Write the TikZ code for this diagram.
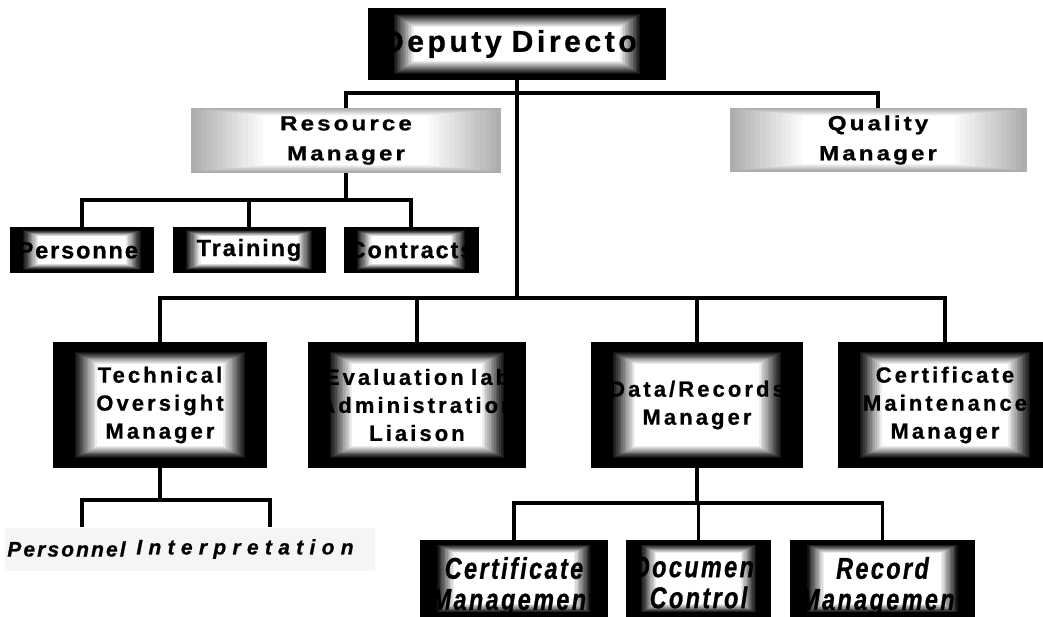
\documentclass[tikz,border=0pt]{standalone}
\usepackage{fontspec}
\setmainfont{Liberation Sans}[BoldFeatures={FakeBold=0.8}, BoldItalicFeatures={FakeBold=0.8}]
\newfontfamily\condit{Liberation Sans}[FakeStretch=0.78, LetterSpace=8, BoldItalicFeatures={FakeBold=0.8}]
\newfontfamily\widefont{Liberation Sans}[FakeStretch=1.18, LetterSpace=15, BoldFeatures={FakeBold=0.8}]
\usetikzlibrary{calc}
\tikzset{
  conn/.style={line width=3.8pt},
  fade/.style n args={5}{path picture={
    \foreach \k in {0,...,14}{
      \pgfmathsetmacro{\fadeval}{#5*(1-\k/14)}
      \pgfmathsetmacro{\ix}{#1+#2*\k/14}
      \pgfmathsetmacro{\iy}{#3+#4*\k/14}
      \fill[black!\fadeval!white]
        ($(path picture bounding box.south west)+(\ix,-\iy)$)
        rectangle
        ($(path picture bounding box.north east)-(\ix,-\iy)$);
    }}},
  box/.style 2 args={inner sep=0pt, minimum width=#1, text width=#1,
    minimum height=#2, align=center},
  darkbox/.style={fill=black},
  lightbox/.style={fill=black!32},
  ftop/.style={font=\bfseries\fontsize{30}{34}\selectfont\addfontfeature{LetterSpace=12}},
  fmid/.style={font=\widefont\bfseries\fontsize{20.5}{30}\selectfont},
  fsmall/.style={font=\bfseries\fontsize{23.5}{26}\selectfont\addfontfeature{LetterSpace=8}},
  fbig/.style={font=\bfseries\fontsize{22}{28}\selectfont\addfontfeature{LetterSpace=14}},
  fital/.style={font=\condit\bfseries\itshape\fontsize{30}{31}\selectfont},
  fleaf/.style={font=\bfseries\itshape\fontsize{21}{24}\selectfont\addfontfeature{LetterSpace=#1}},
}
\begin{document}
\begin{tikzpicture}[x=1pt,y=-1pt]
\useasboundingbox[fill=white] (0,0) rectangle (1043,617);
\clip (0,0) rectangle (1043,617);

% top level
\node[box={298pt}{72pt}, darkbox, fade={24}{22}{5}{14}{100}, ftop] (dep) at (517,44) {Deputy Director};
\node[box={310pt}{65pt}, lightbox, fade={0}{72}{1}{7}{32}, fmid] (res) at (346,140.5) {Resource\\Manager};
\node[box={297pt}{64pt}, lightbox, fade={0}{72}{1}{7}{32}, fmid] (qual) at (878,140) {Quality\\Manager};

% resource children
\node[box={144pt}{46pt}, darkbox, fade={12}{16}{3}{6}{100}, fsmall] (pers) at (82,250) {Personnel};
\node[box={153pt}{46pt}, darkbox, fade={12}{16}{3}{6}{100}, fsmall] (train) at (249,250) {Training};
\node[box={135pt}{46pt}, darkbox, fade={12}{16}{3}{6}{100}, fsmall] (contr) at (411,250) {Contracts};

% second level
\node[box={214pt}{126pt}, darkbox, fade={20}{24}{9}{13}{100}, fbig] (tom) at (160,405) {Technical\\Oversight\\Manager};
\node[box={218pt}{126pt}, darkbox, fade={20}{24}{9}{13}{100}, fbig] (eval) at (417,405) {Evaluation lab\\Administration\\Liaison};
\node[box={212pt}{126pt}, darkbox, fade={20}{24}{9}{13}{100}, fbig] (data) at (697,405) {Data/Records\\Manager};
\node[box={214pt}{126pt}, darkbox, fade={20}{24}{9}{13}{100}, fbig] (cert) at (945,405) {Certificate\\Maintenance\\Manager};

% technical oversight children
\node[inner sep=0pt, minimum width=123pt, minimum height=43pt, fill=black!4, fleaf=10] (tp) at (66.5,549) {Personnel};
\node[inner sep=0pt, minimum width=247pt, minimum height=43pt, fill=black!4, fleaf=30] (ti) at (251.5,549) {Interpretation\hspace*{13pt}};

% data/records children (box, with its text set a little low)
\node[box={188pt}{77pt}, darkbox, fade={16}{18}{4}{9}{100},
  label={[fital, align=center, yshift=-8pt]center:{Certificate\\Management}}] (certm) at (514,578.5) {};
\node[box={145pt}{77pt}, darkbox, fade={14}{16}{4}{9}{100},
  label={[fital, align=center, yshift=-4pt]center:{Document\\Control}}] (doc) at (698.5,578.5) {};
\node[box={185pt}{77pt}, darkbox, fade={16}{18}{4}{9}{100},
  label={[fital, align=center, yshift=-8pt]center:{Record\\Management}}] (rec) at (882.5,578.5) {};

% connectors
\draw[conn] (dep.south) -- (dep.south |- 0,298);
\draw[conn] (res.north) -- (res.north |- 0,93) -| (qual.north);
\draw[conn] (tom.north) -- (tom.north |- 0,298) -| (cert.north);
\draw[conn] (eval.north) -- (eval.north |- 0,298);
\draw[conn] (data.north) -- (data.north |- 0,298);
\draw[conn] (res.south) -- (res.south |- 0,200);
\draw[conn] (pers.north) -- (pers.north |- 0,200) -| (contr.north);
\draw[conn] (train.north) -- (train.north |- 0,200);
\draw[conn] (tom.south) -- (tom.south |- 0,500);
\draw[conn] (tp.north -| 82,0) -- (82,500) -- (270,500) -- (ti.north -| 270,0);
\draw[conn] (data.south) -- (data.south |- 0,503);
\draw[conn] (certm.north) -- (certm.north |- 0,503) -| (rec.north);
\draw[conn] (doc.north) -- (doc.north |- 0,503);
\end{tikzpicture}
\end{document}
